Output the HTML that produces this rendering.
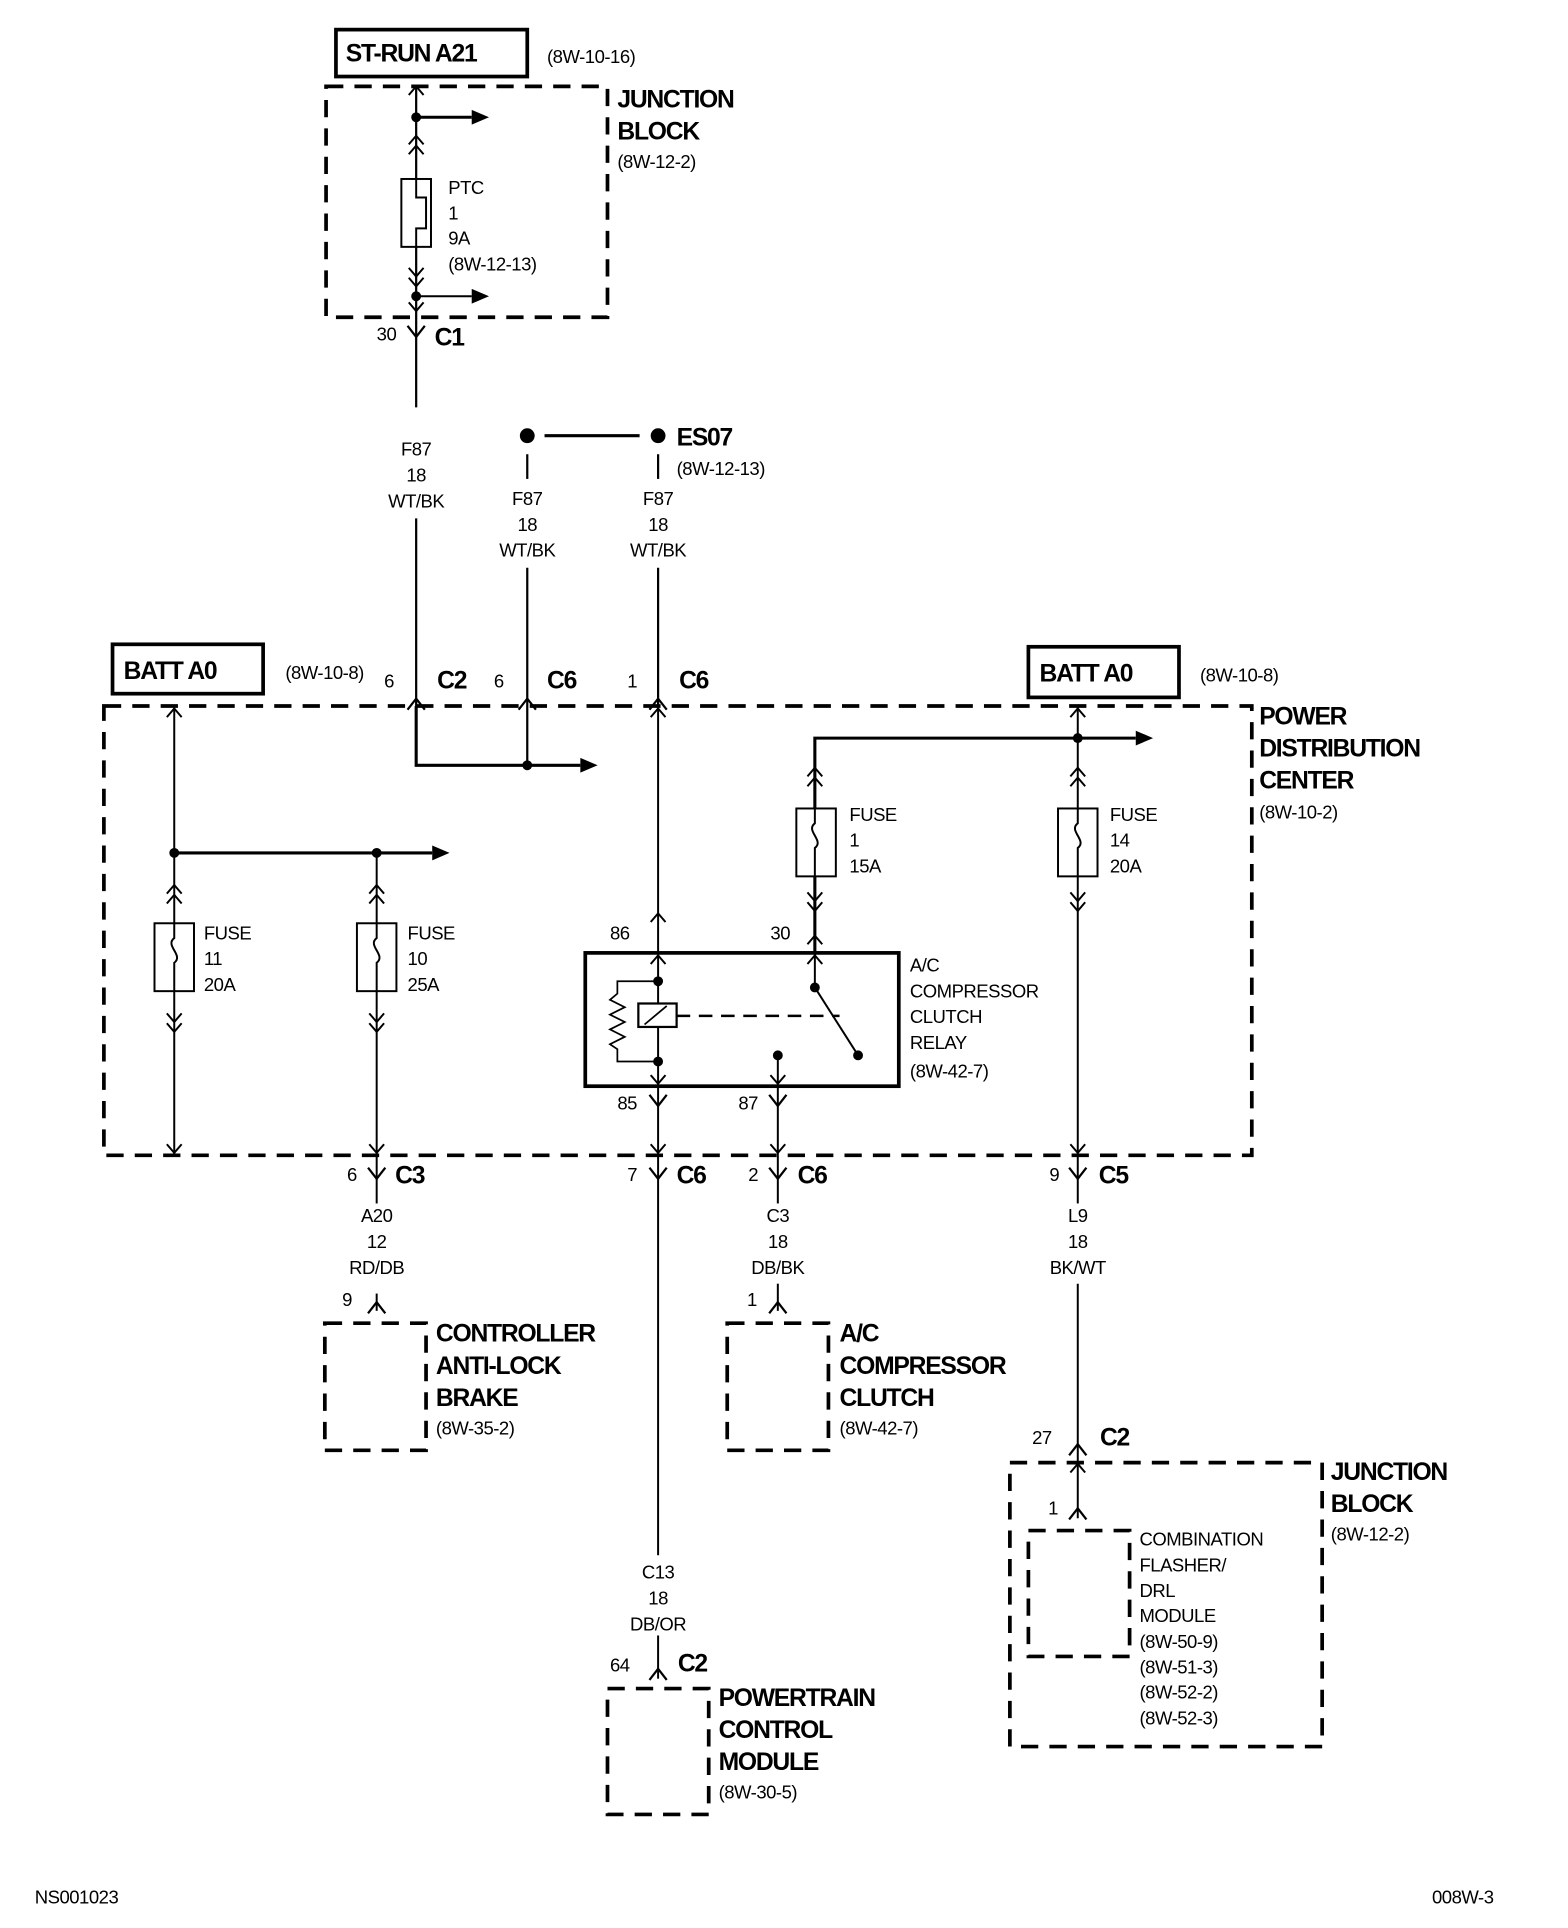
<!DOCTYPE html>
<html><head><meta charset="utf-8"><style>
html,body{margin:0;padding:0;background:#fff;}
svg{display:block}
text{font-family:"Liberation Sans Narrow","Liberation Sans",sans-serif;fill:#000}
.r{font-size:15px;letter-spacing:-0.4px}
.b{font-size:20px;font-weight:bold;letter-spacing:-1px}
.c{text-anchor:middle}
</style></head><body>
<svg width="1568" height="1928" viewBox="0 0 1270 1562" xmlns="http://www.w3.org/2000/svg">
<defs>
<path id="up" d="M-6,7 L0,0 L6,7" fill="none" stroke="#000" stroke-width="1.6"/>
<path id="dn" d="M-6,-7 L0,0 L6,-7" fill="none" stroke="#000" stroke-width="1.6"/>
<g id="fe"><path d="M-7,-9 L0,0 L7,-9" fill="none" stroke="#000" stroke-width="1.8"/></g>
<g id="ma"><path d="M-7,9 L0,0 L7,9" fill="none" stroke="#000" stroke-width="1.8"/></g>
<path id="ar" d="M0,-6 L14,0 L0,6 Z" fill="#000"/>
<path id="sq" d="M0,0 V12 C-8,18 8,26 0,32 V55" fill="none" stroke="#000" stroke-width="1.6"/>
</defs>
<g stroke="#000" fill="none">
<rect x="272" y="24" width="155" height="38" stroke-width="3"/>
<rect x="264" y="70" width="228" height="187" stroke-width="3" stroke-dasharray="14,9"/>
<line x1="337" y1="70" x2="337" y2="330" stroke-width="1.8"/>
<use href="#up" x="337" y="70"/>
<line x1="337" y1="95" x2="382" y2="95" stroke-width="2.5"/>
<use href="#up" x="337" y="110"/><use href="#up" x="337" y="118"/>
<rect x="325" y="145" width="24" height="55" stroke-width="1.6" fill="#fff"/>
<path d="M337,145 V160 H345 V185 H337 V200" stroke-width="1.6"/>
<use href="#dn" x="337" y="224"/><use href="#dn" x="337" y="232"/>
<line x1="337" y1="240" x2="382" y2="240" stroke-width="1.6"/>
<use href="#dn" x="337" y="252"/>
<use href="#fe" x="337" y="273"/>
<line x1="337" y1="420" x2="337" y2="572" stroke-width="1.8"/>
<line x1="441" y1="353" x2="518" y2="353" stroke-width="2.5"/>
<line x1="427" y1="368" x2="427" y2="388" stroke-width="1.8"/>
<line x1="533" y1="368" x2="533" y2="388" stroke-width="1.8"/>
<line x1="427" y1="460" x2="427" y2="620" stroke-width="1.8"/>
<line x1="533" y1="460" x2="533" y2="572" stroke-width="1.8"/>
<rect x="91" y="522" width="122" height="40" stroke-width="3"/>
<rect x="833" y="524" width="122" height="41" stroke-width="3"/>
<use href="#ma" x="337" y="566"/><use href="#ma" x="427" y="566"/><use href="#ma" x="533" y="566"/>
<rect x="84" y="572" width="930" height="364" stroke-width="3" stroke-dasharray="14,9"/>
<path d="M337,572 V620 H470" stroke-width="2.5"/>
<line x1="141" y1="572" x2="141" y2="936" stroke-width="1.6"/>
<use href="#up" x="141" y="574"/><use href="#dn" x="141" y="934"/>
<line x1="141" y1="691" x2="350" y2="691" stroke-width="2.5"/>
<use href="#up" x="141" y="717"/><use href="#up" x="141" y="725"/>
<rect x="125" y="748" width="32" height="55" stroke-width="1.6" fill="#fff"/>
<use href="#sq" x="141" y="748"/>
<use href="#dn" x="141" y="828"/><use href="#dn" x="141" y="836"/>
<line x1="305" y1="691" x2="305" y2="936" stroke-width="1.6"/>
<use href="#up" x="305" y="717"/><use href="#up" x="305" y="725"/>
<rect x="289" y="748" width="32" height="55" stroke-width="1.6" fill="#fff"/>
<use href="#sq" x="305" y="748"/>
<use href="#dn" x="305" y="828"/><use href="#dn" x="305" y="836"/>
<use href="#dn" x="305" y="934"/>
<line x1="533" y1="572" x2="533" y2="1260" stroke-width="1.6"/>
<use href="#up" x="533" y="574"/><use href="#up" x="533" y="740"/>
<path d="M660,772 V598 H920" stroke-width="2.5"/>
<use href="#up" x="660" y="622"/><use href="#up" x="660" y="630"/>
<rect x="645" y="655" width="32" height="55" stroke-width="1.6" fill="#fff"/>
<use href="#sq" x="660" y="655"/>
<use href="#dn" x="660" y="730"/><use href="#dn" x="660" y="738"/>
<use href="#up" x="660" y="758"/>
<line x1="873" y1="572" x2="873" y2="936" stroke-width="1.6"/>
<use href="#up" x="873" y="574"/>
<use href="#up" x="873" y="622"/><use href="#up" x="873" y="630"/>
<rect x="857" y="655" width="32" height="55" stroke-width="1.6" fill="#fff"/>
<use href="#sq" x="873" y="655"/>
<use href="#dn" x="873" y="730"/><use href="#dn" x="873" y="738"/>
<use href="#dn" x="873" y="934"/>
<rect x="474" y="772" width="254" height="108" stroke-width="3"/>
<use href="#up" x="533" y="774"/><use href="#dn" x="533" y="878"/>
<path d="M533,795 H500 V805 L494,810 L506,816 L494,822 L506,828 L494,834 L506,840 L494,846 L500,850 V860 H533" stroke-width="1.4"/>
<rect x="517" y="813" width="31" height="19" stroke-width="1.8" fill="#fff"/>
<line x1="522" y1="830" x2="540" y2="815" stroke-width="1.4"/>
<line x1="548" y1="823" x2="680" y2="823" stroke-width="2" stroke-dasharray="11,7"/>
<line x1="660" y1="772" x2="660" y2="800" stroke-width="1.6"/>
<use href="#up" x="660" y="774"/>
<line x1="660" y1="800" x2="695" y2="855" stroke-width="1.6"/>
<line x1="630" y1="855" x2="630" y2="936" stroke-width="1.6"/>
<use href="#dn" x="630" y="878"/>
<use href="#fe" x="533" y="896"/><use href="#fe" x="630" y="896"/>
<use href="#dn" x="533" y="934"/><use href="#dn" x="630" y="934"/>
<use href="#fe" x="305" y="955"/><use href="#fe" x="533" y="955"/><use href="#fe" x="630" y="955"/><use href="#fe" x="873" y="955"/>
<line x1="305" y1="936" x2="305" y2="975" stroke-width="1.6"/>
<line x1="630" y1="936" x2="630" y2="975" stroke-width="1.6"/>
<line x1="873" y1="936" x2="873" y2="975" stroke-width="1.6"/>
<line x1="305" y1="1048" x2="305" y2="1062" stroke-width="1.6"/><use href="#ma" x="305" y="1055"/>
<line x1="630" y1="1040" x2="630" y2="1062" stroke-width="1.6"/><use href="#ma" x="630" y="1055"/>
<rect x="263" y="1072" width="82" height="103" stroke-width="3" stroke-dasharray="14,9"/>
<rect x="589" y="1072" width="82" height="103" stroke-width="3" stroke-dasharray="14,9"/>
<line x1="533" y1="1325" x2="533" y2="1360" stroke-width="1.6"/><use href="#ma" x="533" y="1352"/>
<rect x="492" y="1368" width="82" height="102" stroke-width="3" stroke-dasharray="14,9"/>
<line x1="873" y1="1040" x2="873" y2="1230" stroke-width="1.6"/>
<use href="#ma" x="873" y="1170"/><use href="#up" x="873" y="1186"/>
<use href="#ma" x="873" y="1222"/>
<rect x="818" y="1185" width="253" height="230" stroke-width="3" stroke-dasharray="14,9"/>
<rect x="833" y="1240" width="82" height="102" stroke-width="3" stroke-dasharray="14,9"/>
</g>
<g fill="#000">
<circle cx="337" cy="95" r="4"/><use href="#ar" x="382" y="95"/>
<circle cx="337" cy="240" r="4"/><use href="#ar" x="382" y="240"/>
<circle cx="427" cy="353" r="6"/><circle cx="533" cy="353" r="6"/>
<circle cx="427" cy="620" r="4"/><use href="#ar" x="470" y="620"/>
<circle cx="141" cy="691" r="4"/><circle cx="305" cy="691" r="4"/><use href="#ar" x="350" y="691"/>
<circle cx="873" cy="598" r="4"/><use href="#ar" x="920" y="598"/>
<circle cx="533" cy="795" r="4"/><circle cx="533" cy="860" r="4"/>
<circle cx="660" cy="800" r="4"/><circle cx="695" cy="855" r="4"/><circle cx="630" cy="855" r="4"/>
</g>
<text class="b" x="280" y="50">ST-RUN A21</text>
<text class="r" x="443" y="51">(8W-10-16)</text>
<text class="b" x="500" y="87">JUNCTION</text>
<text class="b" x="500" y="113">BLOCK</text>
<text class="r" x="500" y="136">(8W-12-2)</text>
<text class="r" x="363" y="157">PTC</text>
<text class="r" x="363" y="178">1</text>
<text class="r" x="363" y="198">9A</text>
<text class="r" x="363" y="219">(8W-12-13)</text>
<text class="r" x="305" y="276">30</text>
<text class="b" x="352" y="280">C1</text>
<text class="r c" x="337" y="369">F87</text><text class="r c" x="337" y="390">18</text><text class="r c" x="337" y="411">WT/BK</text>
<text class="b" x="548" y="361">ES07</text>
<text class="r" x="548" y="385">(8W-12-13)</text>
<text class="r c" x="427" y="409">F87</text><text class="r c" x="427" y="430">18</text><text class="r c" x="427" y="451">WT/BK</text>
<text class="r c" x="533" y="409">F87</text><text class="r c" x="533" y="430">18</text><text class="r c" x="533" y="451">WT/BK</text>
<text class="b" x="100" y="550">BATT A0</text>
<text class="r" x="231" y="550">(8W-10-8)</text>
<text class="b" x="842" y="552">BATT A0</text>
<text class="r" x="972" y="552">(8W-10-8)</text>
<text class="r" x="311" y="557">6</text><text class="b" x="354" y="558">C2</text>
<text class="r" x="400" y="557">6</text><text class="b" x="443" y="558">C6</text>
<text class="r" x="508" y="557">1</text><text class="b" x="550" y="558">C6</text>
<text class="b" x="1020" y="587">POWER</text>
<text class="b" x="1020" y="613">DISTRIBUTION</text>
<text class="b" x="1020" y="639">CENTER</text>
<text class="r" x="1020" y="663">(8W-10-2)</text>
<text class="r" x="165" y="761">FUSE</text><text class="r" x="165" y="782">11</text><text class="r" x="165" y="803">20A</text>
<text class="r" x="330" y="761">FUSE</text><text class="r" x="330" y="782">10</text><text class="r" x="330" y="803">25A</text>
<text class="r" x="688" y="665">FUSE</text><text class="r" x="688" y="686">1</text><text class="r" x="688" y="707">15A</text>
<text class="r" x="899" y="665">FUSE</text><text class="r" x="899" y="686">14</text><text class="r" x="899" y="707">20A</text>
<text class="r" x="494" y="761">86</text>
<text class="r" x="624" y="761">30</text>
<text class="r" x="737" y="787">A/C</text>
<text class="r" x="737" y="808">COMPRESSOR</text>
<text class="r" x="737" y="829">CLUTCH</text>
<text class="r" x="737" y="850">RELAY</text>
<text class="r" x="737" y="873">(8W-42-7)</text>
<text class="r" x="500" y="899">85</text>
<text class="r" x="598" y="899">87</text>
<text class="r" x="281" y="957">6</text><text class="b" x="320" y="959">C3</text>
<text class="r" x="508" y="957">7</text><text class="b" x="548" y="959">C6</text>
<text class="r" x="606" y="957">2</text><text class="b" x="646" y="959">C6</text>
<text class="r" x="850" y="957">9</text><text class="b" x="890" y="959">C5</text>
<text class="r c" x="305" y="990">A20</text><text class="r c" x="305" y="1011">12</text><text class="r c" x="305" y="1032">RD/DB</text>
<text class="r c" x="630" y="990">C3</text><text class="r c" x="630" y="1011">18</text><text class="r c" x="630" y="1032">DB/BK</text>
<text class="r c" x="873" y="990">L9</text><text class="r c" x="873" y="1011">18</text><text class="r c" x="873" y="1032">BK/WT</text>
<text class="r" x="277" y="1058">9</text>
<text class="r" x="605" y="1058">1</text>
<text class="b" x="353" y="1087">CONTROLLER</text>
<text class="b" x="353" y="1113">ANTI-LOCK</text>
<text class="b" x="353" y="1139">BRAKE</text>
<text class="r" x="353" y="1162">(8W-35-2)</text>
<text class="b" x="680" y="1087">A/C</text>
<text class="b" x="680" y="1113">COMPRESSOR</text>
<text class="b" x="680" y="1139">CLUTCH</text>
<text class="r" x="680" y="1162">(8W-42-7)</text>
<text class="r" x="836" y="1170">27</text><text class="b" x="891" y="1171">C2</text>
<text class="b" x="1078" y="1199">JUNCTION</text>
<text class="b" x="1078" y="1225">BLOCK</text>
<text class="r" x="1078" y="1248">(8W-12-2)</text>
<text class="r" x="849" y="1227">1</text>
<text class="r" x="923" y="1252">COMBINATION</text>
<text class="r" x="923" y="1273">FLASHER/</text>
<text class="r" x="923" y="1294">DRL</text>
<text class="r" x="923" y="1314">MODULE</text>
<text class="r" x="923" y="1335">(8W-50-9)</text>
<text class="r" x="923" y="1356">(8W-51-3)</text>
<text class="r" x="923" y="1376">(8W-52-2)</text>
<text class="r" x="923" y="1397">(8W-52-3)</text>
<text class="r c" x="533" y="1279">C13</text><text class="r c" x="533" y="1300">18</text><text class="r c" x="533" y="1321">DB/OR</text>
<text class="r" x="494" y="1354">64</text><text class="b" x="549" y="1354">C2</text>
<text class="b" x="582" y="1382">POWERTRAIN</text>
<text class="b" x="582" y="1408">CONTROL</text>
<text class="b" x="582" y="1434">MODULE</text>
<text class="r" x="582" y="1457">(8W-30-5)</text>
<text class="r" x="28" y="1542">NS001023</text>
<text class="r" x="1160" y="1542">008W-3</text>
</svg>
</body></html>
